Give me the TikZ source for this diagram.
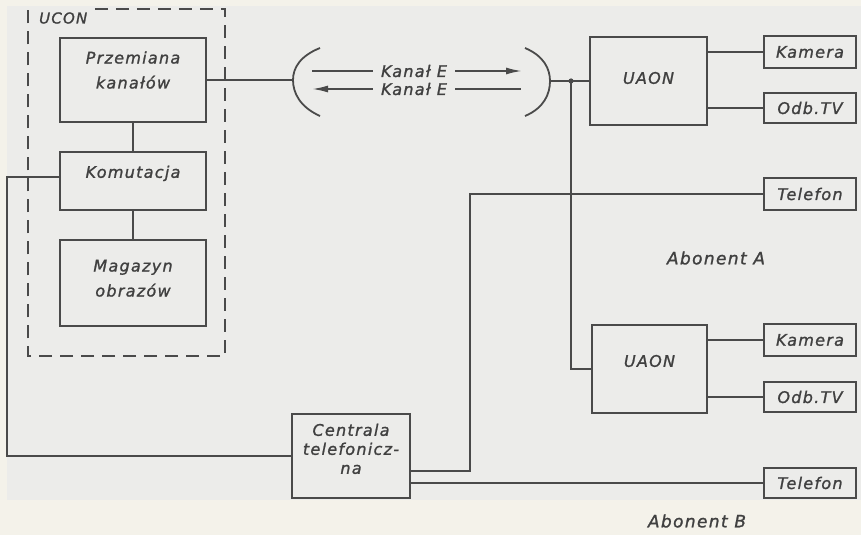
\documentclass[tikz,border=0pt]{standalone}
\usepackage{fontspec}
\usetikzlibrary{arrows.meta,calc}
\newfontfamily\labfont[LetterSpace=8,FakeBold=1.3]{DejaVu Sans}
\definecolor{ink}{HTML}{4A4A4A}
\definecolor{txt}{HTML}{404040}
\definecolor{paper}{HTML}{ECECEA}
\definecolor{margin}{HTML}{F4F2EA}
\newcommand\lift[3]{\raisebox{#1}[\height][\depth]{\fontsize{16}{#2}\selectfont\begin{tabular}{@{}c@{}}#3\end{tabular}}}
\begin{document}
\begin{tikzpicture}[x=1pt,y=-1pt,
  conn/.style={draw=ink,line width=1.8pt},
  lab/.style={font=\labfont\itshape\fontsize{16}{19}\selectfont,text=txt,inner sep=0pt,align=center},
  blk/.style={lab,draw=ink,line width=1.8pt},
  tip/.style={-{Latex[length=16pt,width=7pt]}}
]
\useasboundingbox (0,0) rectangle (861,535);
\fill[margin] (0,0) rectangle (861,535);
\fill[paper] (7,6) rectangle (861,500);

% UCON frame
\node[minimum width=197pt,minimum height=347pt,inner sep=0pt] (ucon) at (126.5,182.5) {};
\draw[conn,dash pattern=on 13pt off 8pt] ($(ucon.north west)+(67,0)$) -- (ucon.north east) -- (ucon.south east) -- (ucon.south west) -- (ucon.north west) -- ($(ucon.north west)+(6,0)$);
\node[lab,font=\labfont\itshape\fontsize{15}{17}\selectfont,anchor=west] (ucontxt) at (39,18) {UCON};

% central blocks
\node[blk,minimum width=146pt,minimum height=84pt] (prz) at (133,80) {\lift{9pt}{25pt}{Przemiana\\kanałów}};
\node[blk,minimum width=146pt,minimum height=58pt] (kom) at (133,181) {\lift{7pt}{19pt}{Komutacja}};
\node[blk,minimum width=146pt,minimum height=86pt] (mag) at (133,283) {\lift{4pt}{25pt}{Magazyn\\obrazów}};
\node[blk,minimum width=118pt,minimum height=84pt] (cen) at (351,456) {\lift{5pt}{19pt}{Centrala\\telefonicz-\\na}};

% subscriber A
\node[blk,minimum width=117pt,minimum height=88pt] (uaonA) at (648.5,81) {\lift{1pt}{19pt}{UAON}};
\node[blk,minimum width=92pt,minimum height=32pt] (kamA) at (810,52) {Kamera};
\node[blk,minimum width=92pt,minimum height=30pt] (odbA) at (810,108) {Odb.TV};
\node[blk,minimum width=92pt,minimum height=32pt] (telA) at (810,194) {Telefon};
\node[lab,font=\labfont\itshape\fontsize{17}{19}\selectfont] (abA) at (716,258) {Abonent A};

% subscriber B
\node[blk,minimum width=115pt,minimum height=88pt] (uaonB) at (649.5,369) {\lift{6pt}{19pt}{UAON}};
\node[blk,minimum width=92pt,minimum height=32pt] (kamB) at (810,340) {Kamera};
\node[blk,minimum width=92pt,minimum height=30pt] (odbB) at (810,397) {Odb.TV};
\node[blk,minimum width=92pt,minimum height=30pt] (telB) at (810,483) {Telefon};
\node[lab,font=\labfont\itshape\fontsize{17}{19}\selectfont] (abB) at (697,521) {Abonent B};

% channel
\coordinate (arcL) at (293,80);
\coordinate (arcR) at (550,81);
\coordinate (dot) at (571,81);
\draw[conn] (320,48) .. controls (300,56) and (293,68) .. (arcL) .. controls (293,93) and (300,107) .. (320,116);
\draw[conn] (525,48) .. controls (544,56) and (550,69) .. (arcR) .. controls (550,94) and (544,108) .. (525,116);
\node[lab,font=\labfont\itshape\fontsize{16}{18}\selectfont,inner xsep=8pt] (kA) at (414,71) {Kanał E};
\node[lab,font=\labfont\itshape\fontsize{16}{18}\selectfont,inner xsep=8pt] (kB) at (414,89) {Kanał E};
\coordinate (kAL) at (312,71);
\coordinate (kAR) at (522,71);
\coordinate (kBL) at (312,89);
\coordinate (kBR) at (521,89);
\draw[conn] (kAL) -- (kA.west);
\draw[conn,tip] (kA.east) -- (kAR);
\draw[conn,tip] (kB.west) -- (kBL);
\draw[conn] (kB.east) -- (kBR);

% connectors
\draw[conn] (prz.east) -- (arcL);
\draw[conn] (prz) -- (kom);
\draw[conn] (kom) -- (mag);
\draw[conn] (arcR) -- (dot) -- (uaonA.west);
\draw[conn] (dot) |- (uaonB.west);
\fill[ink] (dot) circle (2.6pt);
\draw[conn] (uaonA.east |- kamA.west) -- (kamA.west);
\draw[conn] (uaonA.east |- odbA.west) -- (odbA.west);
\draw[conn] (uaonB.east |- kamB.west) -- (kamB.west);
\draw[conn] (uaonB.east |- odbB.west) -- (odbB.west);
\draw[conn] ($(kom.west)+(0,-4)$) -- ++(-52,0) |- (cen.west);
\coordinate (tc) at (470,194);
\draw[conn] ($(cen.east)+(0,15)$) -| (tc) -- (telA.west);
\draw[conn] (cen.east |- telB.west) -- (telB.west);
\end{tikzpicture}
\end{document}
